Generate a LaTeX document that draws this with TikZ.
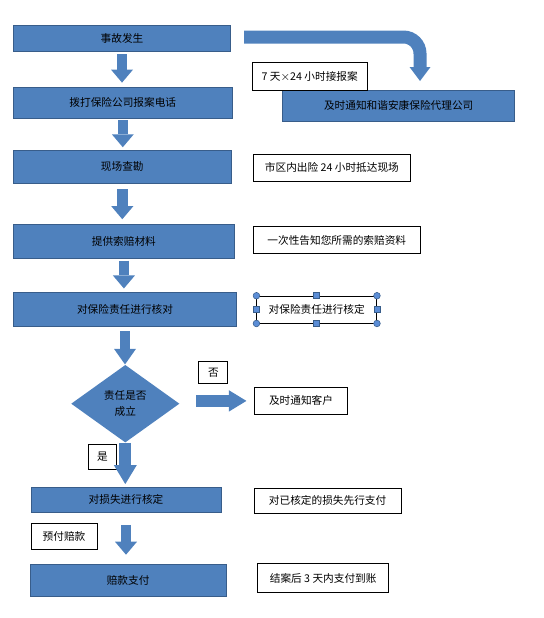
\documentclass[tikz,border=0pt]{standalone}
\usepackage{fontspec}
\newfontfamily\cjk{Noto Sans CJK SC}
\usetikzlibrary{positioning,calc}
\usetikzlibrary{arrows.meta,shapes.geometric}
\definecolor{ClaimBlue}{RGB}{79,129,189}
\definecolor{ClaimEdge}{RGB}{56,93,138}
\definecolor{HandleBlue}{RGB}{91,141,214}
\tikzset{
  proc/.style={draw=ClaimEdge,fill=ClaimBlue,line width=0.6pt,inner sep=0pt,font=\cjk\fontsize{8}{12}\selectfont},
  note/.style={draw=black,fill=white,line width=0.7pt,inner sep=0pt,font=\cjk\fontsize{8}{10}\selectfont},
  wh/.style 2 args={minimum width=#1*0.75pt,minimum height=#2*0.75pt},
  blk/.style={draw=ClaimBlue,line width=7.9pt,-{Triangle[line width=0pt,length=9.75pt,width=16.5pt]}},
}
\tikzset{hc/.style={circle,draw=ClaimEdge,fill=HandleBlue,inner sep=0pt,minimum size=5pt,line width=0.4pt}, hs/.style={rectangle,draw=ClaimEdge,fill=HandleBlue,inner sep=0pt,minimum size=4.5pt,line width=0.4pt}}

\begin{document}
\begin{tikzpicture}[x=0.75pt,y=-0.75pt]
\useasboundingbox (0,0) rectangle (543,618);
% main steps
\node[proc,wh={217}{26}] (ev) at (122,38.4) {事故发生};
\node[proc,wh={219}{31}] (call) at (122.8,102.4) {拨打保险公司报案电话};
\node[proc,wh={218}{33.5}] (site) at (122.3,166.8) {现场查勘};
\node[proc,wh={221}{34}] (docs) at (123.9,241.3) {提供索赔材料};
\node[proc,wh={223}{33.5}] (check) at (125,309.5) {对保险责任进行核对};
\node[proc,draw=none,diamond,wh={108.4}{77.7},align=center] (dec) at (125.3,403.7) {责任是否\\成立};
\node[proc,wh={190}{25}] (loss) at (126,499.5) {对损失进行核定};
\node[proc,wh={196.4}{32.4}] (pay) at (128.1,580.1) {赔款支付};
\node[proc,wh={232}{30.3}] (agent) at (398.7,105.9) {及时通知和谐安康保险代理公司};
% notes
\node[note,wh={114.7}{27.5}] (n24) at (309.7,76.4) {7 天{\sffamily\small ×}24 小时接报案};
\node[note,wh={157}{26.4}] (nsite) at (331.9,167.8) {市区内出险 24 小时抵达现场};
\node[note,wh={166.8}{27.5}] (ndocs) at (336.8,240.1) {一次性告知您所需的索赔资料};
\node[note,wh={119.6}{26.8}] (ncheck) at (316.7,309.6) {对保险责任进行核定};
\node[note,wh={29}{22}] (no) at (213.4,372.5) {否};
\node[note,wh={93.3}{26.4}] (ncust) at (301,400.9) {及时通知客户};
\node[note,wh={27.4}{24.6}] (yes) at (102.4,456.7) {是};
\node[note,wh={147}{25}] (nloss) at (327.6,500.5) {对已核定的损失先行支付};
\node[note,wh={66}{26.7}] (prepay) at (64,536.5) {预付赔款};
\node[note,wh={131.3}{28.1}] (npay) at (323.2,578) {结案后 3 天内支付到账};
% selection handles
\foreach \c [count=\i] in {north west,north east,south west,south east}
  \node[hc] (hc\i) at (ncheck.\c) {};
\foreach \c [count=\i] in {north,south,east,west}
  \node[hs] (hs\i) at (ncheck.\c) {};
% arrows
\coordinate (rstart) at (244,37);
\coordinate (rtip) at (420,81);
\draw[blk,line width=9.75pt,rounded corners=12.4pt,-{Triangle[line width=0pt,length=10.5pt,width=15.75pt]}] (rstart) -| (rtip);
\draw[blk] ([yshift=-1.8pt]ev.south) -- ([yshift=2.9pt]ev.south |- call.north);
\draw[blk] ([yshift=-1.5pt]call.south) -- ([yshift=1.8pt]call.south |- site.north);
\draw[blk] ([yshift=-4pt]site.south) -- ([yshift=3.5pt]site.south |- docs.north);
\draw[blk] ([yshift=-1.5pt]docs.south) -- ([yshift=2.9pt]docs.south |- check.north);
\draw[blk,-{Triangle[line width=0pt,length=11.7pt,width=16.5pt]}] ([yshift=-3.3pt]check.south) -- (check.south |- dec.north);
\draw[blk,line width=9pt,-{Triangle[line width=0pt,length=14.25pt,width=17.25pt]}] (dec.south) -- ([yshift=1.9pt]dec.south |- loss.north);
\draw[blk] ([yshift=-9.4pt]loss.south) -- ([yshift=6.6pt]loss.south |- pay.north);
\draw[blk,line width=9.3pt,-{Triangle[line width=0pt,length=13.2pt,width=16.1pt]}] ([xshift=12.2pt]dec.east |- ncust.west) -- ([xshift=-5.6pt]ncust.west);
\end{tikzpicture}
\end{document}
